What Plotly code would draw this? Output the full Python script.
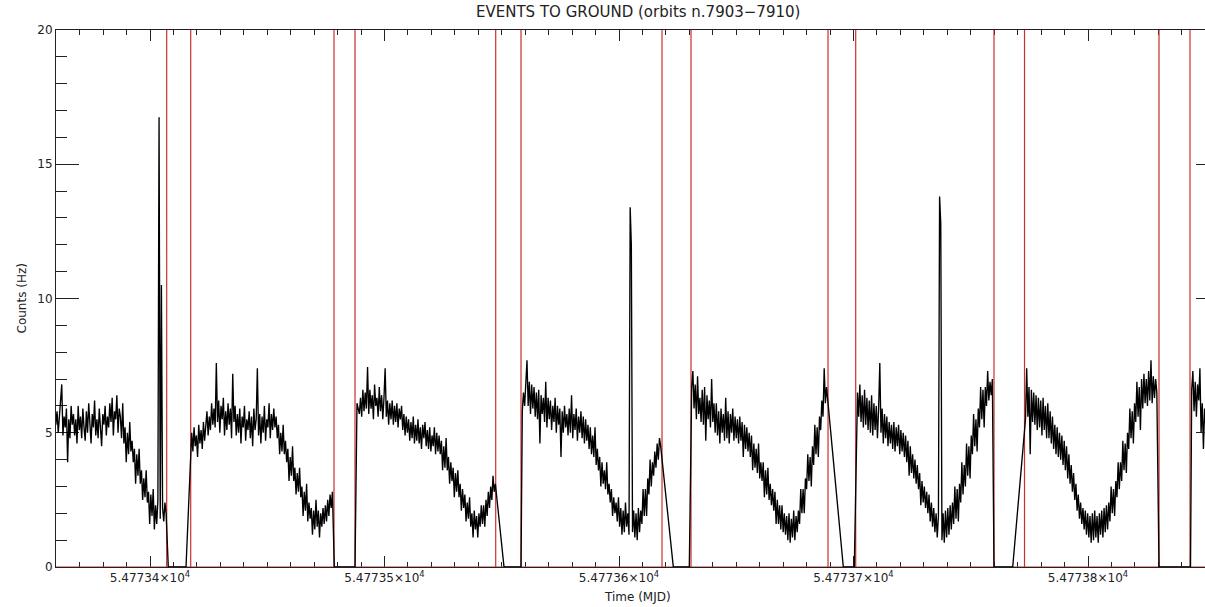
import plotly.graph_objects as go

# ---------------- data ----------------
bin_days = 0.0005  # time bin of the light curve (days)

# start time (MJD) of each continuous stretch of data
seg_start = [54773.35736, 54773.41778, 54773.48827, 54773.55876,
             54773.63100, 54773.70171, 54773.77335, 54773.84422]

seg1 = [6.0, 5.1, 5.7, 4.9, 6.2, 5.3, 5.8, 5.0, 5.6, 6.1,
        6.8, 4.9, 5.6, 5.2, 5.9, 3.9, 5.5, 4.8, 6.0, 5.3,
        5.7, 4.9, 5.5, 4.6, 6.0, 5.1, 5.6, 4.8, 5.9, 5.2,
        4.7, 5.8, 5.0, 6.1, 5.3, 4.6, 5.7, 5.2, 6.2, 4.9,
        5.5, 4.8, 5.9, 5.1, 4.5, 5.7, 5.3, 6.0, 4.9, 5.6,
        5.2, 6.1, 5.4, 6.3, 4.9, 5.8, 5.5, 6.4, 5.0, 5.9,
        5.6, 4.8, 6.1, 4.6, 5.2, 3.9, 5.0, 4.2, 5.4, 4.3,
        4.7, 3.9, 4.4, 3.1, 4.2, 3.4, 4.4, 3.1, 3.6, 2.5,
        3.3, 2.6, 3.6, 2.4, 2.8, 1.6, 2.7, 1.9, 2.9, 1.4,
        2.3, 1.6, 2.5, 16.75, 1.8, 10.5, 2.2, 1.7, 2.4, 2.0]
seg2 = [5.0, 4.3, 5.2, 4.5, 4.9, 4.1, 5.3, 4.6, 5.1, 4.4,
        5.4, 4.7, 5.2, 5.8, 4.9, 5.6, 5.1, 6.1, 5.3, 5.9,
        5.2, 7.6, 5.4, 6.2, 5.0, 6.0, 5.5, 6.3, 4.9, 5.8,
        5.1, 6.1, 5.3, 5.9, 4.8, 7.2, 5.4, 6.0, 4.9, 5.7,
        5.0, 5.9, 4.6, 5.6, 5.2, 6.0, 4.7, 5.5, 5.1, 5.8,
        4.8, 5.6, 4.5, 5.9, 5.1, 5.5, 7.4, 4.9, 5.7, 4.6,
        5.6, 5.0, 6.0, 4.7, 5.5, 5.2, 6.1, 4.8, 5.7, 5.1,
        5.9, 5.2, 5.6, 4.8, 5.3, 4.2, 5.0, 4.3, 5.3, 4.2,
        4.7, 3.9, 4.4, 3.2, 4.1, 3.4, 4.5, 3.2, 3.7, 2.7,
        3.5, 2.8, 3.7, 2.6, 3.0, 1.9, 2.8, 2.1, 3.1, 1.7,
        2.4, 1.8, 2.2, 1.2, 2.1, 1.4, 2.5, 1.5, 2.1, 1.1,
        2.0, 1.5, 2.2, 1.6, 2.3, 1.7, 2.5, 1.9, 2.7, 2.2,
        2.8]
seg3 = [6.1, 5.9, 5.7, 6.3, 5.6, 6.6, 5.8, 6.5, 5.9, 7.45,
        5.7, 6.6, 5.9, 6.4, 5.5, 6.8, 6.0, 6.3, 5.6, 6.7,
        5.8, 6.4, 5.5, 6.3, 7.4, 5.6, 6.2, 5.3, 6.1, 5.5,
        6.2, 5.3, 6.0, 5.4, 6.1, 5.2, 5.9, 5.5, 6.0, 5.1,
        5.7, 4.9, 5.6, 5.0, 5.5, 4.7, 5.4, 4.8, 5.6, 4.6,
        5.3, 4.7, 5.5, 4.6, 5.2, 4.4, 5.3, 4.8, 5.4, 4.5,
        5.1, 4.4, 5.2, 4.3, 4.9, 4.5, 5.2, 4.2, 5.0, 4.3,
        4.9, 4.2, 4.7, 3.6, 4.5, 3.7, 4.8, 3.6, 4.1, 3.1,
        3.9, 3.2, 3.7, 2.6, 3.5, 2.8, 3.6, 2.6, 3.1, 2.1,
        2.9, 2.2, 2.7, 1.7, 2.4, 1.8, 2.6, 1.5, 2.0, 1.1,
        2.1, 1.4, 1.9, 1.1, 2.0, 1.5, 2.3, 1.6, 2.3, 1.5,
        2.5, 1.9, 2.8, 2.2, 3.0, 2.5, 3.4, 2.8, 3.1]
seg4 = [5.8, 6.5, 6.0, 7.1, 7.7, 6.0, 6.9, 5.7, 6.8, 5.9,
        6.7, 5.6, 6.5, 5.5, 6.6, 4.6, 6.4, 5.7, 6.3, 5.4,
        6.9, 5.2, 6.3, 5.5, 6.2, 5.1, 6.0, 5.4, 6.3, 5.0,
        6.0, 5.3, 5.9, 4.1, 5.8, 5.0, 6.0, 5.2, 5.7, 4.9,
        5.9, 5.0, 6.4, 4.8, 5.7, 5.1, 5.9, 4.7, 5.6, 5.0,
        5.8, 4.8, 5.6, 4.6, 5.5, 4.7, 5.3, 4.4, 5.2, 4.2,
        4.9, 4.1, 5.2, 3.8, 4.4, 3.6, 4.1, 3.0, 3.9, 3.1,
        3.6, 2.9, 3.9, 2.7, 3.1, 2.4, 2.9, 1.9, 2.6, 2.0,
        2.4, 1.7, 2.6, 1.5, 2.2, 1.2, 2.1, 1.3, 2.4, 1.5,
        2.0, 1.2, 13.4, 12.0, 1.3, 2.1, 1.1, 2.0, 1.0, 2.2,
        1.3, 2.1, 1.6, 2.9, 1.9, 2.9, 1.9, 3.3, 2.7, 4.0,
        3.0, 3.9, 3.4, 4.3, 3.7, 4.6, 4.0, 4.8, 4.5]
seg5 = [6.7, 7.3, 5.9, 6.8, 5.5, 7.1, 5.7, 6.3, 5.4, 6.6,
        5.3, 6.7, 4.7, 6.4, 5.5, 6.2, 5.2, 7.0, 5.4, 6.1,
        5.0, 6.1, 4.9, 5.8, 4.6, 5.9, 5.0, 5.7, 4.7, 6.3,
        4.8, 5.8, 4.6, 5.7, 5.0, 5.9, 4.7, 5.6, 4.8, 5.5,
        4.6, 5.6, 4.7, 5.4, 4.1, 5.3, 4.4, 5.2, 4.3, 5.0,
        4.1, 4.9, 3.6, 4.6, 3.7, 4.4, 3.5, 4.6, 3.3, 3.9,
        3.2, 3.9, 2.6, 3.6, 2.7, 3.7, 2.5, 3.1, 2.3, 2.9,
        2.1, 2.8, 1.6, 2.5, 1.6, 2.3, 1.4, 2.3, 1.3, 2.0,
        1.2, 1.9, 1.0, 2.0, 0.9, 1.8, 1.1, 2.1, 1.0, 1.9,
        1.3, 2.1, 1.6, 2.9, 2.0, 2.9, 2.0, 3.3, 2.9, 4.2,
        3.2, 4.1, 3.0, 4.5, 3.8, 5.3, 4.2, 5.2, 4.1, 5.6,
        5.1, 6.2, 5.6, 7.4, 6.1, 6.7]
seg6 = [6.5, 5.6, 6.8, 5.4, 6.4, 5.2, 6.6, 5.3, 6.3, 5.1,
        6.2, 5.0, 6.4, 4.9, 6.1, 5.1, 6.0, 4.8, 5.9, 7.6,
        5.0, 5.9, 4.6, 5.7, 4.8, 5.6, 4.5, 5.4, 4.6, 5.3,
        4.4, 5.4, 4.3, 5.2, 4.5, 5.3, 4.2, 5.1, 4.3, 5.0,
        4.1, 4.9, 3.9, 4.7, 3.4, 4.5, 3.5, 4.2, 3.3, 4.0,
        3.1, 3.8, 2.9, 3.5, 2.3, 3.2, 2.4, 3.0, 2.2, 2.8,
        2.0, 2.7, 1.7, 2.4, 1.5, 2.2, 1.3, 2.0, 1.1, 1.9,
        13.8, 12.8, 1.0, 2.0, 0.9, 2.1, 1.1, 2.2, 1.2, 2.3,
        1.4, 2.4, 1.6, 3.0, 1.8, 2.9, 1.7, 3.1, 2.4, 3.9,
        2.7, 3.8, 3.0, 4.6, 3.4, 4.5, 3.3, 4.9, 4.2, 5.7,
        4.5, 5.5, 4.3, 5.9, 5.2, 6.7, 5.5, 6.6, 5.2, 6.7,
        6.0, 7.3, 6.2, 6.9, 6.4, 7.0]
seg7 = [5.5, 7.4, 5.6, 6.7, 4.2, 6.6, 5.4, 6.5, 5.3, 6.4,
        5.1, 6.3, 5.2, 6.2, 4.9, 6.3, 5.1, 6.0, 4.8, 6.1,
        4.8, 5.8, 4.6, 5.6, 4.4, 5.3, 4.2, 5.2, 4.1, 5.0,
        4.0, 4.9, 3.8, 4.7, 3.6, 4.5, 3.3, 4.2, 3.1, 3.8,
        2.8, 3.5, 2.5, 3.1, 2.1, 2.7, 1.8, 2.4, 1.6, 2.2,
        1.4, 2.1, 1.2, 2.0, 1.1, 1.9, 0.9, 2.0, 1.0, 2.1,
        1.1, 1.9, 0.9, 2.0, 1.2, 2.1, 1.1, 2.2, 1.3, 2.3,
        1.4, 2.4, 1.7, 3.0, 2.0, 2.9, 1.9, 3.2, 2.6, 3.9,
        2.9, 3.9, 3.2, 4.7, 3.6, 4.6, 3.5, 5.0, 4.4, 5.9,
        4.8, 5.8, 4.6, 6.1, 5.4, 6.9, 5.6, 6.7, 5.1, 7.0,
        5.9, 7.2, 6.1, 7.0, 6.0, 7.3, 6.2, 7.7, 6.1, 7.1,
        6.3, 7.0, 6.5]
seg8 = [6.6, 7.3, 5.8, 6.9, 5.6, 6.8, 6.2, 7.4, 5.0, 6.1,
        4.4, 5.9, 5.3, 6.4]

# stretches (MJD) where the count rate is zero between orbits
gap_zero_start = [54773.40780, 54773.47859, 54773.55096, 54773.62316,
                  54773.69565, 54773.75991, 54773.83028]
gap_zero_end = [54773.41535, 54773.48742, 54773.55821, 54773.62998,
                54773.70034, 54773.76789, 54773.84371]

# orbit boundary flags (red)
orbit_edges = [54773.40712, 54773.41736, 54773.47846, 54773.48742,
               54773.54742, 54773.55821, 54773.61834, 54773.63070,
               54773.68913, 54773.70094, 54773.75991, 54773.77292,
               54773.83028, 54773.84350]
flag_level = 100.0

x_ticks = [54773.4, 54773.5, 54773.6, 54773.7, 54773.8]
x_tick_labels = ["5.47734×10<sup>4</sup>", "5.47735×10<sup>4</sup>",
                 "5.47736×10<sup>4</sup>", "5.47737×10<sup>4</sup>",
                 "5.47738×10<sup>4</sup>"]
y_ticks = [0, 5, 10, 15, 20]
y_tick_labels = ["0", "5", "10", "15", "20"]

# ---------------- build series ----------------
segments = [seg1, seg2, seg3, seg4, seg5, seg6, seg7, seg8]
t, c = [], []
for k, seg in enumerate(segments):
    for i, v in enumerate(seg):
        t.append(seg_start[k] + i * bin_days)
        c.append(v)
    if k < len(gap_zero_start):
        t += [gap_zero_start[k], gap_zero_end[k]]
        c += [0.0, 0.0]

rt, rc = [t[0]], [0.0]
for e in orbit_edges:
    rt += [e, e, e]
    rc += [0.0, flag_level, 0.0]
rt.append(t[-1])
rc.append(0.0)

FONT = "DejaVu Sans"
INK = "#222222"

fig = go.Figure()
fig.add_trace(go.Scatter(x=rt, y=rc, mode="lines",
                         line=dict(color="#c8302c", width=1.2),
                         hoverinfo="skip", showlegend=False))
fig.add_trace(go.Scatter(x=t, y=c, mode="lines",
                         line=dict(color="#000000", width=1.35),
                         showlegend=False))
fig.add_trace(go.Scatter(x=[], y=[], yaxis="y2", showlegend=False))

fig.update_layout(
    width=1205, height=607,
    margin=dict(l=56, r=0, t=30, b=40),
    paper_bgcolor="white", plot_bgcolor="white",
    font=dict(family=FONT, size=12, color=INK),
    xaxis=dict(range=[54773.35991, 54773.84989],
               tickmode="array", tickvals=x_ticks, ticktext=x_tick_labels,
               ticks="inside", ticklen=11, tickwidth=1, tickcolor=INK,
               showline=True, linecolor=INK, linewidth=1, mirror="ticks",
               showgrid=False, zeroline=False, layer="below traces",
               tickfont=dict(family=FONT, size=12, color=INK),
               minor=dict(dtick=0.01, tick0=54773.4, ticks="inside",
                          ticklen=5, tickcolor=INK, showgrid=False)),
    yaxis=dict(range=[0, 20],
               tickmode="array", tickvals=y_ticks, ticktext=y_tick_labels,
               ticks="inside", ticklen=23, tickwidth=1, tickcolor=INK,
               showline=True, linecolor=INK, linewidth=1, mirror=False,
               showgrid=False, zeroline=False, layer="below traces",
               tickfont=dict(family=FONT, size=12, color=INK),
               minor=dict(dtick=1, ticks="inside", ticklen=11,
                          tickcolor=INK, showgrid=False)),
    yaxis2=dict(range=[0, 20], overlaying="y", side="right", anchor="x",
                tickmode="array", tickvals=y_ticks[1:-1],
                ticks="inside", ticklen=9, tickcolor=INK,
                showticklabels=False, showline=False, showgrid=False,
                zeroline=False),
    annotations=[
        dict(text="EVENTS TO GROUND (orbits n.7903−7910)",
             xref="paper", yref="paper", x=0.5061, y=1.0335,
             xanchor="center", yanchor="middle", showarrow=False,
             font=dict(family=FONT, size=15, color=INK)),
        dict(text="Time (MJD)", xref="paper", yref="paper",
             x=0.5061, y=-0.0559, xanchor="center", yanchor="middle",
             showarrow=False, font=dict(family=FONT, size=12, color=INK)),
        dict(text="Counts (Hz)", xref="paper", yref="paper",
             x=-0.0296, y=0.5, xanchor="center", yanchor="middle",
             textangle=-90, showarrow=False,
             font=dict(family=FONT, size=12, color=INK)),
    ],
)

fig.write_html("out.html")
